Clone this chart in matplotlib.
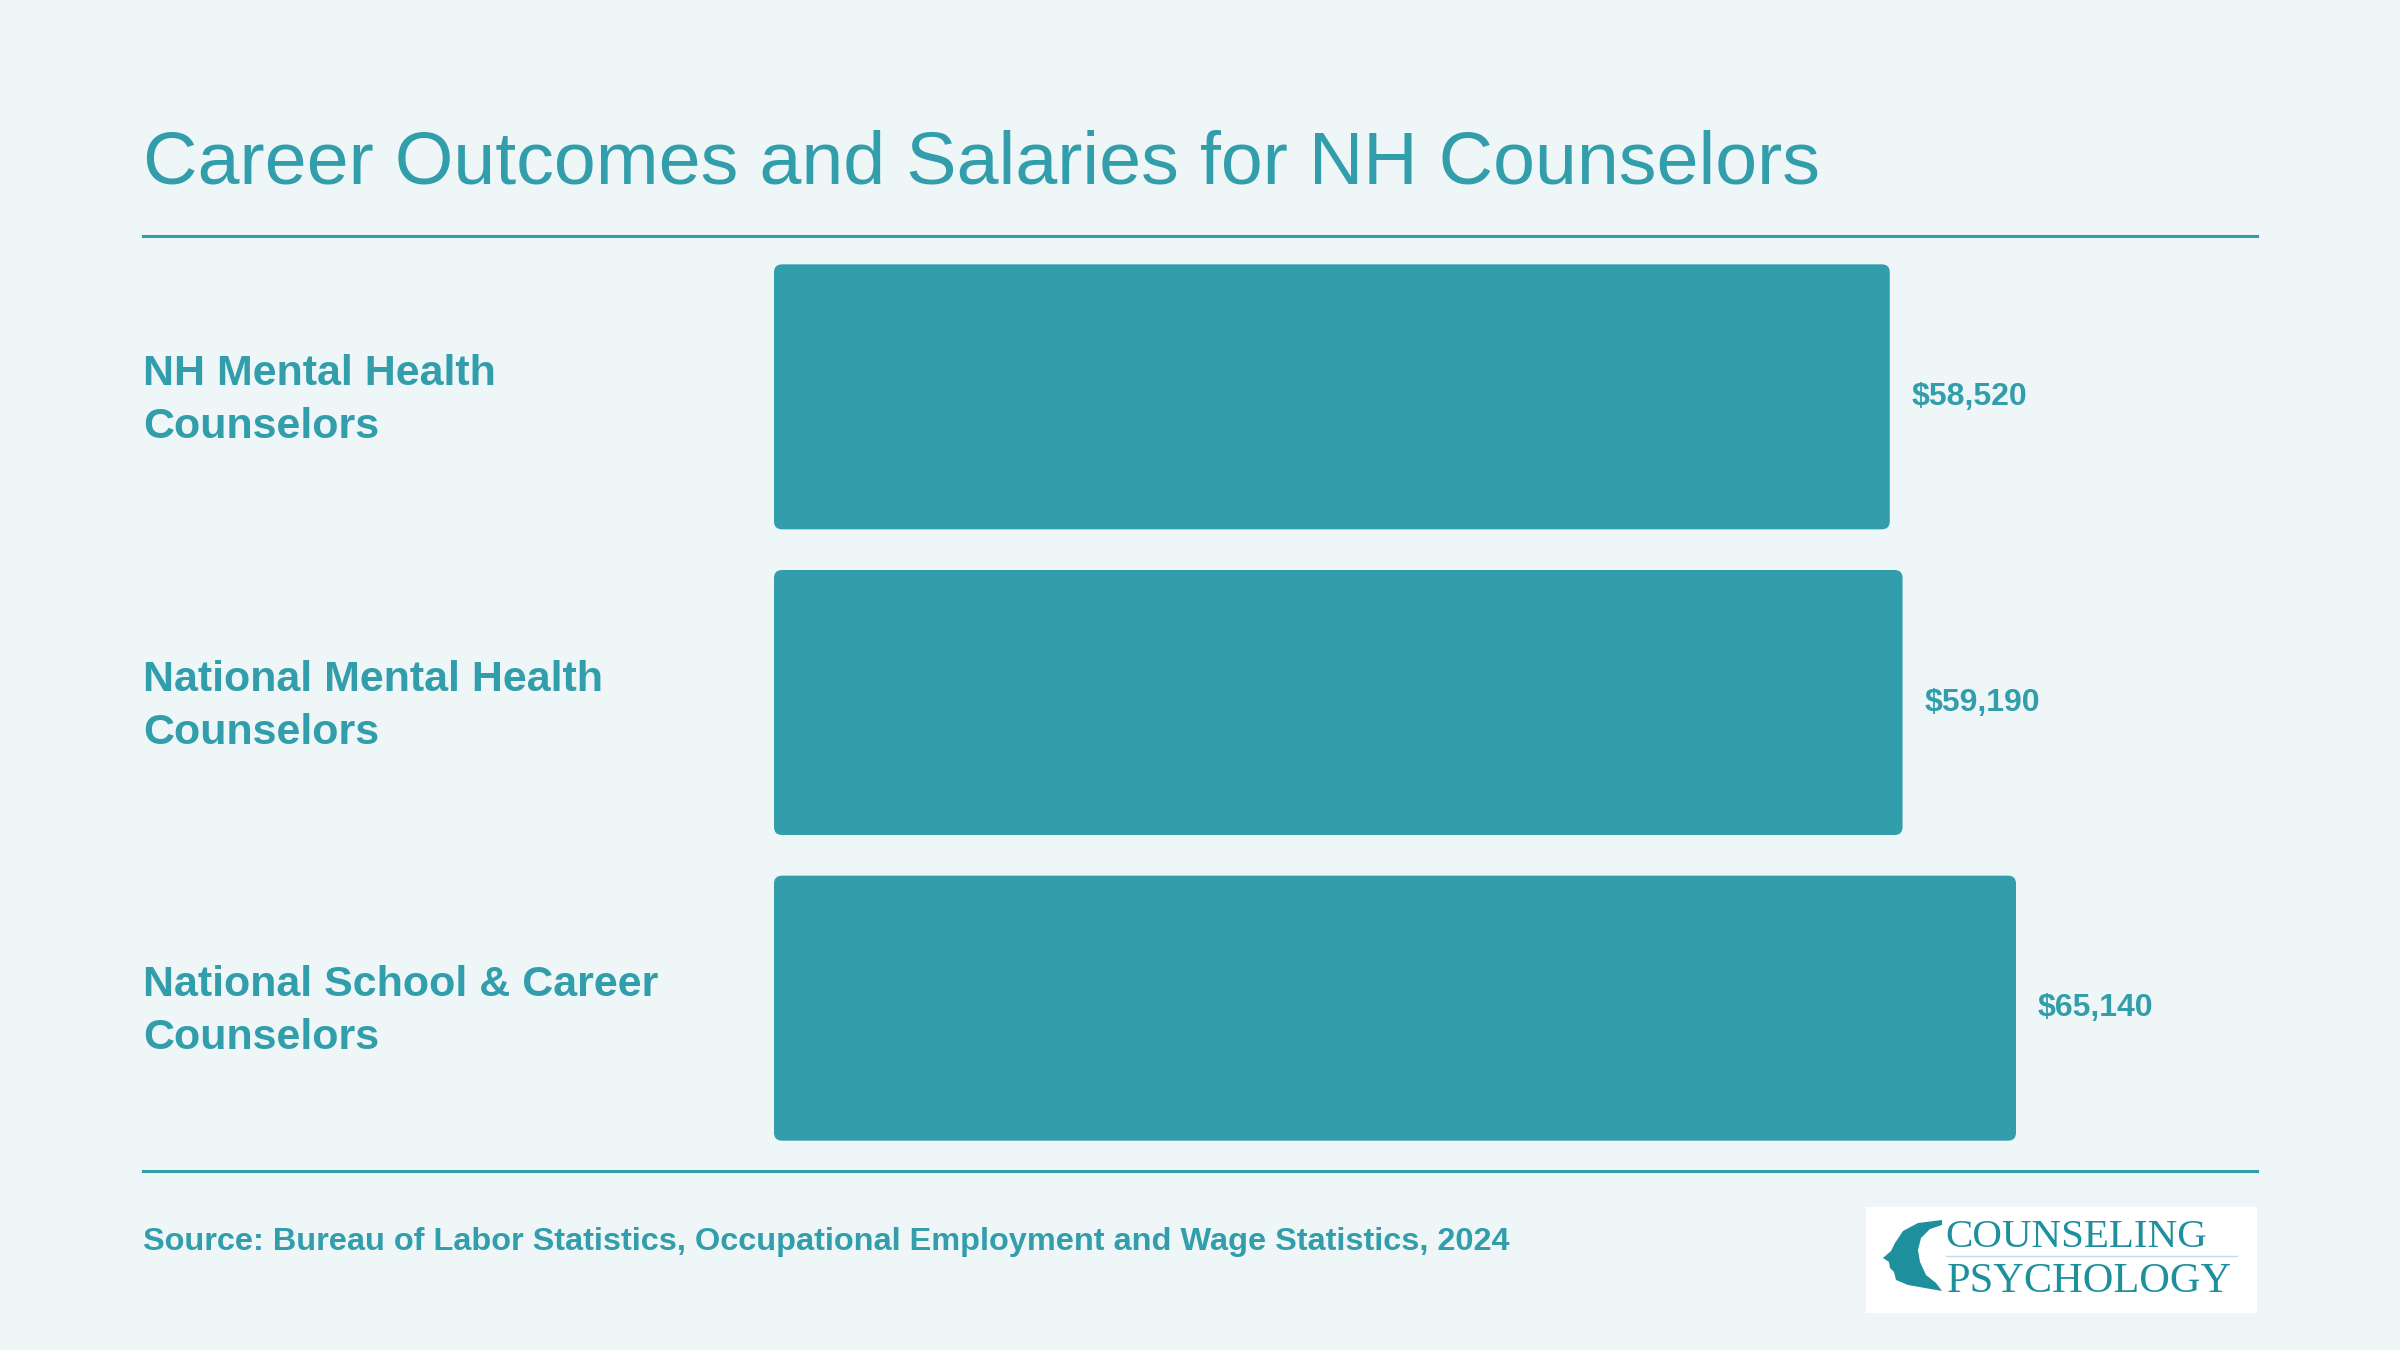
import numpy as np
import matplotlib.pyplot as plt
from matplotlib.patches import FancyBboxPatch, Rectangle, Polygon
from matplotlib.lines import Line2D

plt.rcParams['font.family'] = ['Liberation Sans', 'DejaVu Sans']

categories = ["NH Mental Health\nCounselors",
              "National Mental Health\nCounselors",
              "National School & Career\nCounselors"]
salaries = [58520, 59190, 65140]
value_labels = ["$58,520", "$59,190", "$65,140"]
title = "Career Outcomes and Salaries for NH Counselors"
source = "Source: Bureau of Labor Statistics, Occupational Employment and Wage Statistics, 2024"

bg = "#EEF6F8"
teal = "#329DAB"
logo_teal = "#1E8F9C"
W, H = 2400, 1350

fig = plt.figure(figsize=(24, 13.5), dpi=100, facecolor=bg)

def fx(px):
    return px / W

def fy(py):
    return 1 - py / H

# axes spans bar area: x 774..2257 px, y 244..1161 px
ax = fig.add_axes([fx(774), fy(1161), fx(2257) - fx(774), fy(244) - fy(1161)])
ax.set_facecolor(bg)
ax.set_xlim(0, 77780)
ax.set_ylim(2.5, -0.5)
ax.axis("off")

y = np.arange(len(categories))
bars = ax.barh(y, salaries, height=0.867, color=teal)

# rounded corners (radius ~8 px) drawn over the bar positions
x_per_px = 77780 / (2257 - 774)
y_per_px = 3.0 / (1161 - 244)
r = 8 * x_per_px
for b in bars:
    b.set_visible(False)
    ax.add_patch(FancyBboxPatch((b.get_x(), b.get_y()), b.get_width(), b.get_height(),
                                boxstyle=f"round,pad=0,rounding_size={r}",
                                mutation_aspect=y_per_px / x_per_px,
                                facecolor=teal, edgecolor="none"))

ax.bar_label(bars, labels=value_labels, padding=15.8, color=teal,
             fontsize=23, fontweight="bold")

for yi, lab in zip(y, categories):
    ax.text((143 - 774) / (2257 - 774), yi + 0.012, lab, transform=ax.get_yaxis_transform(),
            ha="left", va="center", fontsize=31, fontweight="bold", color=teal,
            linespacing=1.42)

fig.text(fx(143), fy(183), title, ha="left", va="baseline", fontsize=54.3, color=teal)

for py in (236, 1171):
    fig.add_artist(Line2D([fx(143), fx(2257)], [fy(py), fy(py)], color=teal, lw=2.2))

fig.text(fx(143), fy(1250), source, ha="left", va="baseline", fontsize=23.4,
         fontweight="bold", color=teal)

# logo
fig.add_artist(Rectangle((fx(1866), fy(1313)), fx(2257) - fx(1866), fy(1207) - fy(1313),
                         transform=fig.transFigure, facecolor="white", edgecolor="none"))
head = [(1942, 1220), (1918, 1223), (1903, 1231), (1895, 1243), (1891, 1251), (1883, 1258),
        (1889, 1262), (1890, 1268), (1894, 1272), (1896, 1280), (1908, 1285), (1925, 1288),
        (1942, 1291), (1936, 1283), (1926, 1275), (1920, 1262), (1918, 1250), (1921, 1238),
        (1930, 1229), (1942, 1225)]
fig.add_artist(Polygon([(fx(a), fy(b)) for a, b in head], closed=True,
                       transform=fig.transFigure, facecolor=logo_teal, edgecolor="none"))
fig.text(fx(1945), fy(1247), "COUNSELING", ha="left", va="baseline", fontsize=29.5,
         family="Liberation Serif", color=logo_teal)
fig.text(fx(1947), fy(1292), "PSYCHOLOGY", ha="left", va="baseline", fontsize=30.5,
         family="Liberation Serif", color=logo_teal)
fig.add_artist(Line2D([fx(1946), fx(2237)], [fy(1256), fy(1256)], color="#BFE0E4", lw=1.0))

fig.savefig("out.png", dpi=100, facecolor=bg)
